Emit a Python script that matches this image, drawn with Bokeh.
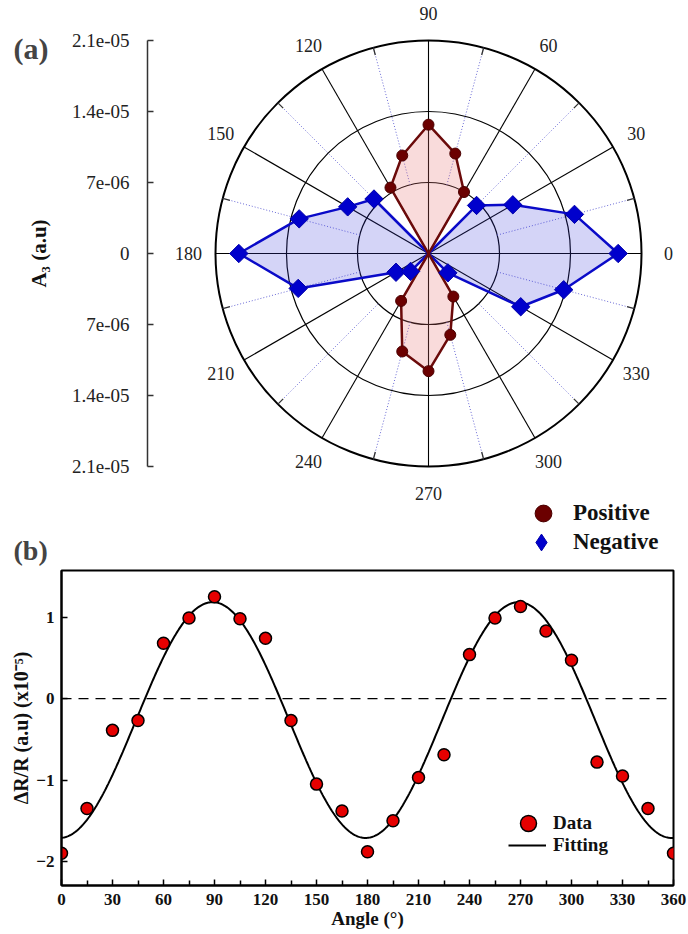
import numpy as np
from bokeh.plotting import figure
from bokeh.models import (LinearAxis, FixedTicker, Range1d, Span, Legend,
                          LegendItem, Label)
from bokeh.embed import file_html
from bokeh.resources import INLINE
from bokeh.core.properties import value

SERIF = "Liberation Serif"

# ---------------- data: panel (a), polar plot of A3 ----------------
polar_angles = [0, 15, 30, 45, 60, 75, 90, 105, 120, 135, 150, 165,
                180, 195, 210, 225, 240, 255, 270, 285, 300, 315, 330, 345]
positive_A3 = [0, 0, 0, 0, 7.0e-6, 10.2e-6, 12.7e-6, 10.0e-6, 7.5e-6, 0, 0, 0,
               0, 0, 0, 0, 5.4e-6, 10.0e-6, 11.6e-6, 8.3e-6, 4.9e-6, 0, 0, 0]
negative_A3 = [18.7e-6, 14.9e-6, 9.6e-6, 6.7e-6, 0, 0, 0, 0, 0, 7.6e-6, 9.2e-6, 13.2e-6,
               18.7e-6, 13.3e-6, 3.7e-6, 2.5e-6, 0, 0, 0, 0, 0, 2.7e-6, 10.5e-6, 13.8e-6]
radial_ticks = [7e-6, 1.4e-5, 2.1e-5]
radial_axis_ticks = [-2.1e-5, -1.4e-5, -7e-6, 0.0, 7e-6, 1.4e-5, 2.1e-5]
radial_axis_labels = ["2.1e-05", "1.4e-05", "7e-06", "0", "7e-06", "1.4e-05", "2.1e-05"]
major_angles = [0, 30, 60, 90, 120, 150, 180, 210, 240, 270, 300, 330]
minor_angles = [15, 45, 75, 105, 135, 165, 195, 225, 255, 285, 315, 345]

# ---------------- data: panel (b), dR/R vs angle ----------------
angle_b = [0, 15, 30, 45, 60, 75, 90, 105, 120, 135, 150, 165, 180,
           195, 210, 225, 240, 255, 270, 285, 300, 315, 330, 345, 360]
dRR_b = [-1.90, -1.35, -0.39, -0.27, 0.68, 0.99, 1.25, 0.98, 0.74, -0.27, -1.05, -1.38, -1.88,
         -1.50, -0.97, -0.69, 0.54, 0.99, 1.13, 0.83, 0.47, -0.78, -0.95, -1.35, -1.90]
x_major_ticks = [0, 30, 60, 90, 120, 150, 180, 210, 240, 270, 300, 330, 360]
x_minor_ticks = [15, 45, 75, 105, 135, 165, 195, 225, 255, 285, 315, 345]
y_ticks = [-2, -1, 0, 1]


def to_xy(r, deg):
    t = np.deg2rad(np.asarray(deg, dtype=float))
    r = np.asarray(r, dtype=float)
    return r * np.cos(t), r * np.sin(t)


def legend(items, loc, gw, gh, size, standoff):
    return Legend(items=items, location=loc, glyph_width=gw, glyph_height=gh,
                  padding=0, margin=0, spacing=0, border_line_color=None,
                  background_fill_alpha=0, inactive_fill_alpha=0,
                  label_text_font=SERIF, label_text_font_style="bold",
                  label_text_font_size=size, label_standoff=standoff,
                  label_text_color="#111111")


# ---------------- panel (a) ----------------
R = radial_ticks[-1]
PX = 213.0 / R              # pixels per data unit (same in x and y)
A_W, A_H = 688, 569
CX, CY = 428.0, 253.0       # pole position on the canvas (px from left / top)
AXIS_X = 147.0              # where the radial axis stands (px from left)

pa = figure(width=A_W, height=A_H, output_backend="svg", toolbar_location=None,
            x_range=Range1d(-CX / PX, (A_W - CX) / PX),
            y_range=Range1d(-(A_H - CY) / PX, CY / PX),
            x_axis_location=None, y_axis_location=None,
            min_border_left=0, min_border_right=0, min_border_top=0, min_border_bottom=0)
pa.outline_line_color = None
pa.grid.visible = False

# radial axis, standing left of the polar disc
ax = LinearAxis(ticker=FixedTicker(ticks=radial_axis_ticks), bounds=(-R, R),
                fixed_location=(AXIS_X - CX) / PX,
                major_label_overrides={t: l for t, l in zip(radial_axis_ticks, radial_axis_labels)},
                axis_label="A\u2083 (a.u)", axis_label_text_font=SERIF,
                axis_label_text_font_style="bold", axis_label_text_font_size="21px",
                axis_label_standoff=18, axis_label_text_color="#111111",
                major_label_text_font=SERIF, major_label_text_font_size="19px",
                major_label_text_color="#222222", major_label_standoff=18,
                axis_line_color="#333333", axis_line_width=1.5,
                major_tick_in=6, major_tick_out=0, major_tick_line_color="#333333",
                major_tick_line_width=1.5, minor_tick_line_color=None)
pa.add_layout(ax, "left")

# polar grid
pa.circle(x=[0] * len(radial_ticks), y=[0] * len(radial_ticks), radius=radial_ticks,
          fill_color=None, line_color="black", line_width=[1.2, 1.2, 2.0])
mx, my = to_xy([R] * len(major_angles), major_angles)
pa.segment(x0=0, y0=0, x1=mx, y1=my, line_color="black", line_width=1.1)
n0x, n0y = to_xy([radial_ticks[0]] * len(minor_angles), minor_angles)
n1x, n1y = to_xy([R] * len(minor_angles), minor_angles)
pa.segment(x0=n0x, y0=n0y, x1=n1x, y1=n1y, line_color="#6a6ad6", line_width=1,
           line_dash="1 2")
t0x, t0y = to_xy([R * 0.965] * len(minor_angles), minor_angles)
pa.segment(x0=t0x, y0=t0y, x1=n1x, y1=n1y, line_color="#333333", line_width=1.3)

# lobes
nx, ny = to_xy(negative_A3, polar_angles)
pa.patch(nx, ny, fill_color="#3c3cdc", fill_alpha=0.22, line_color="#0a0ac8",
         line_width=2.5, line_join="round")
px_, py_ = to_xy(positive_A3, polar_angles)
pa.patch(px_, py_, fill_color="#e87070", fill_alpha=0.25, line_color="#6b0a0a",
         line_width=2.5, line_join="round")

mp = np.asarray(positive_A3) > 0
mn = np.asarray(negative_A3) > 0
pos_pts = pa.scatter(px_[mp], py_[mp], marker="circle", size=11,
                     fill_color="#6b0000", line_color="#4a0000")
neg_pts = pa.scatter(nx[mn], ny[mn], marker="square", angle=np.pi / 4, size=13,
                     fill_color="#0000cc", line_color="#0000aa")
# same points as a diamond marker, used only as the legend's key
neg_key = pa.scatter(nx[mn], ny[mn], marker="diamond", size=13,
                     fill_color="#0000cc", line_color="#0000aa", visible=False)

# angle labels
lx, ly = to_xy([R * 240.0 / 213.0] * len(major_angles), major_angles)
pa.text(lx, ly, text=[str(a) for a in major_angles], text_font=value(SERIF),
        text_font_size="18px", text_align="center", text_baseline="middle",
        text_color="#222222")

pa.add_layout(legend([LegendItem(label="Positive", renderers=[pos_pts])],
                     (522, 35), 42, 42, "23px", 9))
pa.add_layout(legend([LegendItem(label="Negative", renderers=[neg_key])],
                     (520, 0), 42, 54, "23px", 11))

pa.add_layout(Label(x=13, y=A_H - 48, x_units="screen", y_units="screen", text="(a)",
                    text_font=SERIF, text_font_style="bold", text_font_size="30px",
                    text_align="left", text_baseline="middle"))
pa.add_layout(Label(x=13, y=A_H - 550, x_units="screen", y_units="screen", text="(b)",
                    text_font=SERIF, text_font_style="bold", text_font_size="28px",
                    text_align="left", text_baseline="middle"))

# ---------------- panel (b) ----------------
pb = figure(width=688, height=934 - A_H, output_backend="svg", toolbar_location=None,
            x_range=Range1d(0, 360), y_range=Range1d(-2.295, 1.573),
            min_border_left=61, min_border_right=15, min_border_top=1, min_border_bottom=49)
pb.grid.visible = False
pb.outline_line_color = "black"
pb.outline_line_width = 2

pb.xaxis.ticker = FixedTicker(ticks=x_major_ticks, minor_ticks=x_minor_ticks)
pb.yaxis.ticker = FixedTicker(ticks=y_ticks)
for a in (pb.xaxis[0], pb.yaxis[0]):
    a.axis_line_width = 2
    a.axis_line_color = "black"
    a.major_tick_in = 6
    a.major_tick_out = 0
    a.major_tick_line_width = 1.5
    a.minor_tick_in = 5
    a.minor_tick_out = 0
    a.minor_tick_line_width = 1.5
    a.major_label_text_font = SERIF
    a.major_label_text_font_style = "bold"
    a.major_label_text_font_size = "17px"
    a.major_label_text_color = "#111111"
    a.axis_label_text_font = SERIF
    a.axis_label_text_font_style = "bold"
    a.axis_label_text_color = "#111111"
pb.yaxis.minor_tick_line_color = None
pb.xaxis.axis_label = "Angle (\u00b0)"
pb.yaxis.axis_label = "\u0394R/R (a.u) (x10\u207b\u2075)"
pb.xaxis.axis_label_text_font_size = "19px"
pb.yaxis.axis_label_text_font_size = "20px"
pb.xaxis.major_label_standoff = 8
pb.xaxis.axis_label_standoff = 0
pb.yaxis.major_label_standoff = 7
pb.yaxis.axis_label_standoff = 1

pb.add_layout(Span(location=0, dimension="width", line_color="black", line_width=1.2,
                   line_dash="10 7"))

# least-squares fit of dR/R = a + b cos(2θ) + c sin(2θ)
th = np.deg2rad(np.asarray(angle_b, dtype=float))
M = np.column_stack([np.ones_like(th), np.cos(2 * th), np.sin(2 * th)])
coef, *_ = np.linalg.lstsq(M, np.asarray(dRR_b), rcond=None)
tf = np.linspace(0, 360, 721)
tfr = np.deg2rad(tf)
yfit = coef[0] + coef[1] * np.cos(2 * tfr) + coef[2] * np.sin(2 * tfr)

fit_r = pb.line(tf, yfit, line_color="black", line_width=2)
pts_r = pb.scatter(angle_b, dRR_b, marker="circle", size=12, fill_color="#e60000",
                   line_color="black", line_width=1.5)

pb.add_layout(legend([LegendItem(label="Data", renderers=[pts_r])],
                     (447, 42), 40, 40, "19px", 5))
pb.add_layout(legend([LegendItem(label="Fitting", renderers=[fit_r])],
                     (447, 29), 38, 20, "19px", 7))

open("out.html", "w").write(file_html([pa, pb], INLINE))
